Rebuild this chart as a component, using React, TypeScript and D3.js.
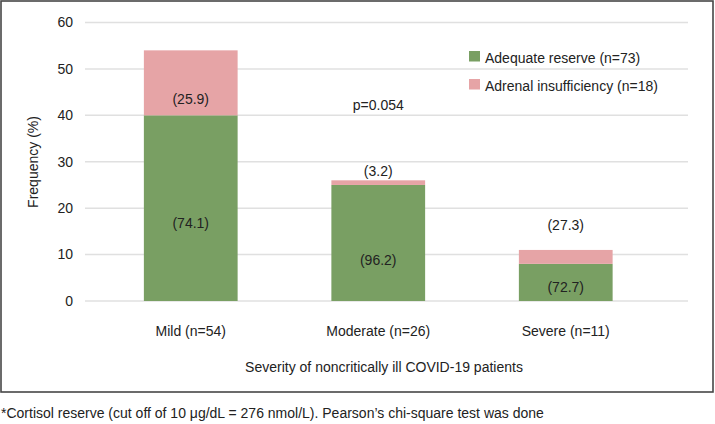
import { useRef, useEffect } from "react";
import * as d3 from "d3";

const categories = ["Mild (n=54)", "Moderate (n=26)", "Severe (n=11)"];
const adequate = [40, 25, 8];
const insufficiency = [14, 1, 3];
const adequatePct = ["(74.1)", "(96.2)", "(72.7)"];
const insufficiencyPct = ["(25.9)", "(3.2)", "(27.3)"];
// where the percentage labels sit, in axis units
const adequateLabelAt = [16.8, 8.8, 3];
const insufficiencyLabelAt = [43.6, 27.9, 16.4];
const yTicks = [0, 10, 20, 30, 40, 50, 60];
const seriesNames = ["Adequate reserve (n=73)", "Adrenal insufficiency (n=18)"];
const colors = ["#799f63", "#e6a4a6"];

export default function App() {
  const svgRef = useRef<SVGSVGElement>(null);

  useEffect(() => {
    document.body.style.margin = "0";
    if (!svgRef.current) return;
    const svg = d3.select(svgRef.current);
    svg.selectAll("*").remove();

    const width = 715;
    const height = 424;
    const font = "Liberation Sans, Arial, sans-serif";
    const textColor = "#222";

    svg.attr("viewBox", `0 0 ${width} ${height}`).attr("font-family", font);

    // Frame
    svg
      .append("rect")
      .attr("x", 1)
      .attr("y", 1)
      .attr("width", 712)
      .attr("height", 391)
      .attr("fill", "#fff")
      .attr("stroke", "#474747")
      .attr("stroke-width", 1.6);

    const x = d3.scaleBand<string>().domain(categories).range([97, 659.5]).paddingInner(0.5).paddingOuter(0.25);
    const y = d3.scaleLinear().domain([0, 60]).range([301, 22.5]);

    // Grid
    svg
      .selectAll(".grid")
      .data(yTicks)
      .join("line")
      .attr("x1", 85)
      .attr("x2", 688)
      .attr("y1", (d) => y(d))
      .attr("y2", (d) => y(d))
      .attr("stroke", "#e0e0e0")
      .attr("stroke-width", 1.5);

    // Y tick labels
    svg
      .selectAll(".ytick")
      .data(yTicks)
      .join("text")
      .attr("x", 73)
      .attr("y", (d) => y(d))
      .attr("dy", "0.35em")
      .attr("text-anchor", "end")
      .attr("font-size", "14px")
      .attr("fill", textColor)
      .text((d) => d);

    // Bars
    svg
      .selectAll(".bar-a")
      .data(categories)
      .join("rect")
      .attr("x", (d) => x(d)!)
      .attr("width", x.bandwidth())
      .attr("y", (d, i) => y(adequate[i]))
      .attr("height", (d, i) => y(0) - y(adequate[i]))
      .attr("fill", colors[0]);

    svg
      .selectAll(".bar-b")
      .data(categories)
      .join("rect")
      .attr("x", (d) => x(d)!)
      .attr("width", x.bandwidth())
      .attr("y", (d, i) => y(adequate[i] + insufficiency[i]))
      .attr("height", (d, i) => y(adequate[i]) - y(adequate[i] + insufficiency[i]))
      .attr("fill", colors[1]);

    // Percentage labels
    const cx = (d: string) => x(d)! + x.bandwidth() / 2;
    svg
      .selectAll(".lab-a")
      .data(categories)
      .join("text")
      .attr("x", cx)
      .attr("y", (d, i) => y(adequateLabelAt[i]))
      .attr("dy", "0.35em")
      .attr("text-anchor", "middle")
      .attr("font-size", "14px")
      .attr("fill", textColor)
      .text((d, i) => adequatePct[i]);

    svg
      .selectAll(".lab-b")
      .data(categories)
      .join("text")
      .attr("x", cx)
      .attr("y", (d, i) => y(insufficiencyLabelAt[i]))
      .attr("dy", "0.35em")
      .attr("text-anchor", "middle")
      .attr("font-size", "14px")
      .attr("fill", textColor)
      .text((d, i) => insufficiencyPct[i]);

    // p value
    svg
      .append("text")
      .attr("x", cx(categories[1]))
      .attr("y", y(42.2))
      .attr("dy", "0.35em")
      .attr("text-anchor", "middle")
      .attr("font-size", "14px")
      .attr("fill", textColor)
      .text("p=0.054");

    // Category labels
    svg
      .selectAll(".xtick")
      .data(categories)
      .join("text")
      .attr("x", cx)
      .attr("y", 336)
      .attr("text-anchor", "middle")
      .attr("font-size", "14px")
      .attr("fill", textColor)
      .text((d) => d);

    // Legend
    const legend = svg.append("g").attr("transform", "translate(469,51)");
    seriesNames.forEach((name, i) => {
      legend
        .append("rect")
        .attr("x", 0)
        .attr("y", i * 28)
        .attr("width", 11)
        .attr("height", 10.5)
        .attr("fill", colors[i]);
      legend
        .append("text")
        .attr("x", 16)
        .attr("y", i * 28 + 7)
        .attr("dy", "0.35em")
        .attr("font-size", "14px")
        .attr("fill", textColor)
        .text(name);
    });

    // Axis titles
    svg
      .append("text")
      .attr("x", 384)
      .attr("y", 372)
      .attr("text-anchor", "middle")
      .attr("font-size", "14px")
      .attr("fill", textColor)
      .text("Severity of noncritically ill COVID-19 patients");

    svg
      .append("text")
      .attr("transform", "rotate(-90)")
      .attr("x", -162)
      .attr("y", 38)
      .attr("text-anchor", "middle")
      .attr("font-size", "14px")
      .attr("fill", textColor)
      .text("Frequency (%)");

    // Footnote
    svg
      .append("text")
      .attr("x", 1)
      .attr("y", 418)
      .attr("font-size", "14px")
      .attr("fill", textColor)
      .text("*Cortisol reserve (cut off of 10 μg/dL = 276 nmol/L). Pearson’s chi-square test was done");
  }, []);

  return <svg ref={svgRef} width={715} height={424} style={{ display: "block" }} />;
}
